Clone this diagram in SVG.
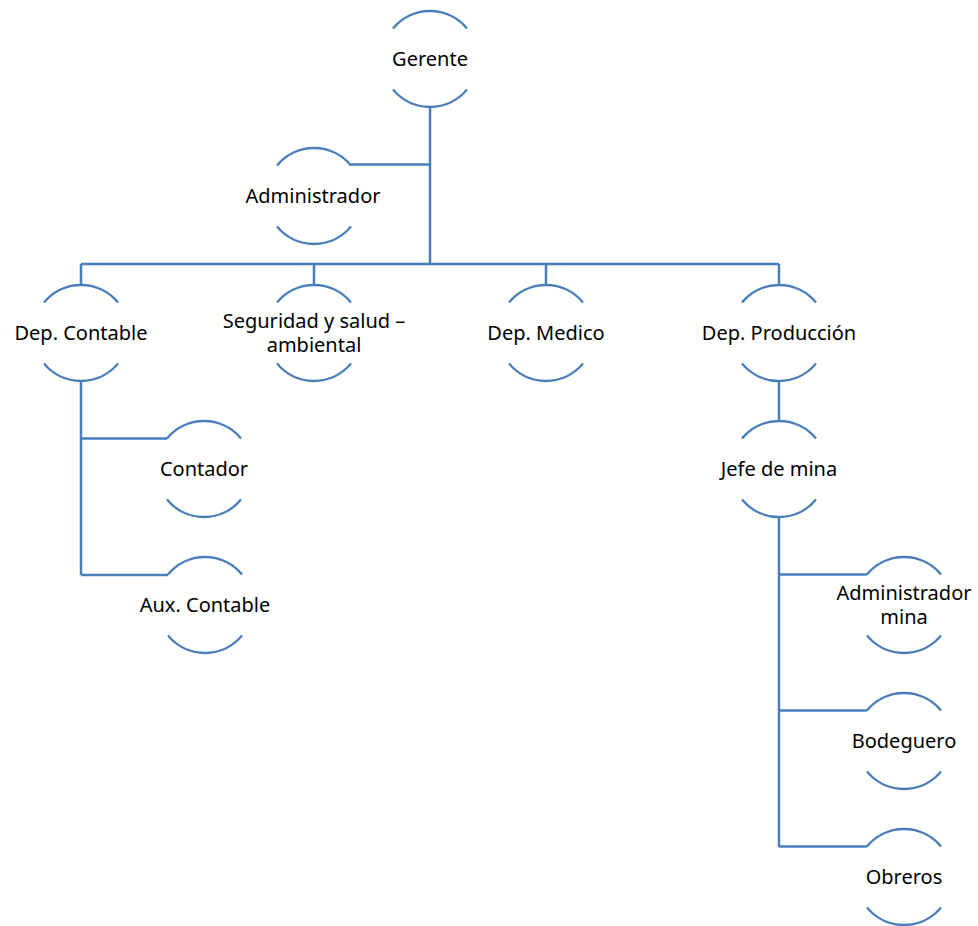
<svg xmlns="http://www.w3.org/2000/svg" width="978" height="926" viewBox="0 0 978 926">
<style>
.arc{fill:none;stroke:#4A7EBB;stroke-width:2.3}
.con{fill:none;stroke:#4A7EBB;stroke-width:2.5}
text{font-family:"Noto Sans","Open Sans",sans-serif;font-size:20px;fill:#000;text-anchor:middle}
</style>
<rect width="978" height="926" fill="#fff"/>
<g id="connectors" class="con">
<path d="M430,108 V264"/>
<path d="M351,164.5 H430"/>
<path d="M81,264 H779"/>
<path d="M81,264 V285 M314,264 V285 M546,264 V285 M779,264 V285"/>
<path d="M81,381 V575 M81,438.5 H167 M81,575 H168"/>
<path d="M779,381 V421"/>
<path d="M779,517 V847 M779,574.5 H867 M779,710.5 H867 M779,846.5 H867"/>
</g>
<g id="gerente"><path class="arc" d="M393,28.4 A48,48 0 0 1 467,28.4 M393,89.6 A48,48 0 0 0 467,89.6"/><text x="430" y="66">Gerente</text></g>
<g id="administrador"><path class="arc" d="M277,165.4 A48,48 0 0 1 351,165.4 M277,226.6 A48,48 0 0 0 351,226.6"/><text x="313" y="203">Administrador</text></g>
<g id="dep-contable"><path class="arc" d="M44,302.4 A48,48 0 0 1 118,302.4 M44,363.6 A48,48 0 0 0 118,363.6"/><text x="81" y="340">Dep. Contable</text></g>
<g id="seguridad"><path class="arc" d="M277,302.4 A48,48 0 0 1 351,302.4 M277,363.6 A48,48 0 0 0 351,363.6"/><text x="314" y="328">Seguridad y salud –</text><text x="314" y="352">ambiental</text></g>
<g id="dep-medico"><path class="arc" d="M509,302.4 A48,48 0 0 1 583,302.4 M509,363.6 A48,48 0 0 0 583,363.6"/><text x="546" y="340">Dep. Medico</text></g>
<g id="dep-produccion"><path class="arc" d="M742,302.4 A48,48 0 0 1 816,302.4 M742,363.6 A48,48 0 0 0 816,363.6"/><text x="779" y="340">Dep. Producción</text></g>
<g id="contador"><path class="arc" d="M167,438.4 A48,48 0 0 1 241,438.4 M167,499.6 A48,48 0 0 0 241,499.6"/><text x="204" y="476">Contador</text></g>
<g id="aux-contable"><path class="arc" d="M168,574.4 A48,48 0 0 1 242,574.4 M168,635.6 A48,48 0 0 0 242,635.6"/><text x="205" y="612">Aux. Contable</text></g>
<g id="jefe-mina"><path class="arc" d="M742,438.4 A48,48 0 0 1 816,438.4 M742,499.6 A48,48 0 0 0 816,499.6"/><text x="779" y="476">Jefe de mina</text></g>
<g id="administrador-mina"><path class="arc" d="M867,574.4 A48,48 0 0 1 941,574.4 M867,635.6 A48,48 0 0 0 941,635.6"/><text x="904" y="600">Administrador</text><text x="904" y="624">mina</text></g>
<g id="bodeguero"><path class="arc" d="M867,710.4 A48,48 0 0 1 941,710.4 M867,771.6 A48,48 0 0 0 941,771.6"/><text x="904" y="748">Bodeguero</text></g>
<g id="obreros"><path class="arc" d="M867,846.4 A48,48 0 0 1 941,846.4 M867,907.6 A48,48 0 0 0 941,907.6"/><text x="904" y="884">Obreros</text></g>
</svg>
